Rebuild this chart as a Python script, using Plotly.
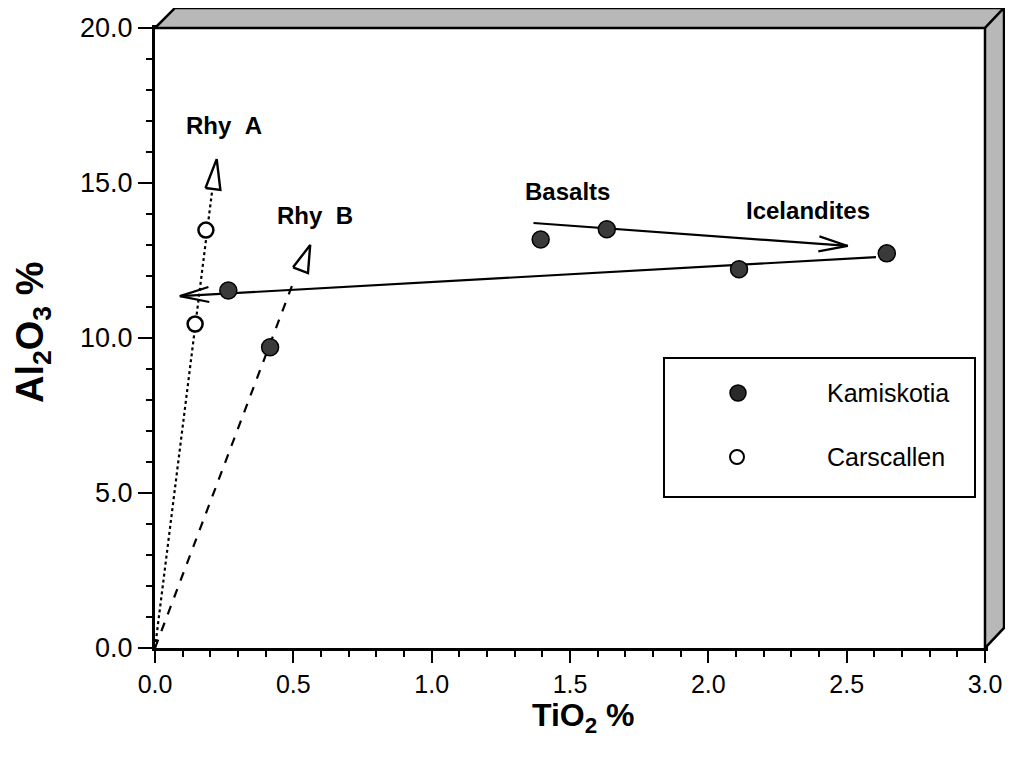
import plotly.graph_objects as go
import numpy as np

# ---------------- data ----------------
kam_tio2 = [0.265, 0.416, 1.394, 1.633, 2.111, 2.645]
kam_al2o3 = [11.53, 9.70, 13.18, 13.51, 12.22, 12.73]
car_tio2 = [0.184, 0.145]
car_al2o3 = [13.48, 10.45]

# trend lines (start, end) and arrow tips
rhyA_x = [0.0, 0.206]
rhyA_y = [0.0, 14.71]
rhyA_tip = [0.223, 15.77]
rhyB_x = [0.0, 0.503]
rhyB_y = [0.0, 11.87]
rhyB_tip = [0.561, 13.00]
bas_x = [1.368, 2.504]
bas_y = [13.71, 12.97]
ice_x = [2.606, 0.090]
ice_y = [12.61, 11.35]

x_ticks = [0.0, 0.5, 1.0, 1.5, 2.0, 2.5, 3.0]
x_tick_labels = ["0.0", "0.5", "1.0", "1.5", "2.0", "2.5", "3.0"]
y_ticks = [0, 5, 10, 15, 20]
y_tick_labels = ["0.0", "5.0", "10.0", "15.0", "20.0"]

labels = ["Rhy  A", "Rhy  B", "Basalts", "Icelandites"]
label_x = [0.249, 0.578, 1.492, 2.36]
label_y = [16.85, 13.95, 14.71, 14.1]

legend_names = ["Kamiskotia", "Carscallen"]

# ---------------- geometry ----------------
OFF = 8  # page body margin in the browser
W, H = 1013 - 2 * OFF, 759 - 2 * OFF - 8
ML, MT = 155 - OFF, 28 - OFF
PW, PH = 830, 620
MR = W - ML - PW
MB = H - MT - PH
XR = (0, 3)
YR = (0, 20)
PX = PW / (XR[1] - XR[0])
PY = PH / (YR[1] - YR[0])

FONT = "Liberation Sans, Arial, Helvetica, sans-serif"

fig = go.Figure()


def line_trace(xs, ys, dash="solid", width=2.2):
    fig.add_trace(go.Scatter(x=xs, y=ys, mode="lines",
                             line=dict(color="black", width=width, dash=dash),
                             hoverinfo="skip", showlegend=False))


def head(tip, frm, L, Wd, closed):
    dx = (tip[0] - frm[0]) * PX
    dy = (tip[1] - frm[1]) * PY
    n = np.hypot(dx, dy)
    ux, uy = dx / n, dy / n
    nx, ny = -uy, ux
    bx = tip[0] * PX - L * ux
    by = tip[1] * PY - L * uy
    p1 = ((bx + Wd * nx) / PX, (by + Wd * ny) / PY)
    p2 = ((bx - Wd * nx) / PX, (by - Wd * ny) / PY)
    if closed:
        xs = [p1[0], tip[0], p2[0], p1[0]]
        ys = [p1[1], tip[1], p2[1], p1[1]]
    else:
        xs = [p1[0], tip[0], p2[0]]
        ys = [p1[1], tip[1], p2[1]]
    return xs, ys


# Rhy A (dotted)
line_trace(rhyA_x, rhyA_y, dash="dot", width=2.2)
hx, hy = head(rhyA_tip, (rhyA_x[0], rhyA_y[0]), 30, 7.5, True)
line_trace(hx, hy, width=2.4)
# Rhy B (dashed)
line_trace(rhyB_x, rhyB_y, dash="dash", width=2.2)
hx, hy = head(rhyB_tip, (rhyB_x[0], rhyB_y[0]), 27, 8, True)
line_trace(hx, hy, width=2.4)
# Basalt trend
line_trace(bas_x, bas_y, width=2.2)
hx, hy = head((bas_x[1], bas_y[1]), (bas_x[0], bas_y[0]), 29, 7.5, False)
line_trace(hx, hy, width=2.2)
# Icelandite trend
line_trace(ice_x, ice_y, width=2.2)
hx, hy = head((ice_x[1], ice_y[1]), (ice_x[0], ice_y[0]), 29, 7.5, False)
line_trace(hx, hy, width=2.2)

# points
fig.add_trace(go.Scatter(x=kam_tio2, y=kam_al2o3, mode="markers", name=legend_names[0],
                         marker=dict(size=17, color="#3a3a3a", line=dict(color="black", width=1.5)),
                         showlegend=False))
fig.add_trace(go.Scatter(x=car_tio2, y=car_al2o3, mode="markers", name=legend_names[1],
                         marker=dict(size=15, color="white", line=dict(color="black", width=2.5)),
                         showlegend=False))

# in-plot labels
for t, x, y in zip(labels, label_x, label_y):
    fig.add_annotation(x=x, y=y, text=t.replace(" ", "&nbsp;"), showarrow=False,
                       font=dict(family=FONT, size=24, color="black", weight="bold"),
                       xanchor="center", yanchor="middle")


def px2paper(px, py):
    # px, py are screenshot pixels
    return (px - OFF - ML) / PW, (MT + PH - (py - OFF)) / PH


shapes = []
# 3D bands
top_pts = [(155, 28), (175, 8), (1004, 8), (985, 28)]
right_pts = [(985, 28), (1004, 8), (1004, 628), (985, 648)]
for pts in (top_pts, right_pts):
    pp = [px2paper(*p) for p in pts]
    path = "M " + " L ".join(f"{a:.4f},{b:.4f}" for a, b in pp) + " Z"
    shapes.append(dict(type="path", xref="paper", yref="paper", path=path,
                       fillcolor="#b8b8b8", line=dict(color="black", width=2.5), layer="above"))

# legend box
bx0, by0 = px2paper(664, 358)
bx1, by1 = px2paper(975, 497)
shapes.append(dict(type="rect", xref="paper", yref="paper", x0=bx0, x1=bx1, y0=by1, y1=by0,
                   fillcolor="white", line=dict(color="black", width=2), layer="above"))
mk1 = px2paper(738, 393)
mk2 = px2paper(737, 457)
shapes.append(dict(type="circle", xref="paper", yref="paper", xsizemode="pixel", ysizemode="pixel",
                   xanchor=mk1[0], yanchor=mk1[1], x0=-8, x1=8, y0=-8, y1=8,
                   fillcolor="#2a2a2a", line=dict(color="black", width=1.5), layer="above"))
shapes.append(dict(type="circle", xref="paper", yref="paper", xsizemode="pixel", ysizemode="pixel",
                   xanchor=mk2[0], yanchor=mk2[1], x0=-7, x1=7, y0=-7, y1=7,
                   fillcolor="white", line=dict(color="black", width=2), layer="above"))
tx = px2paper(825, 0)[0]
fig.add_annotation(xref="paper", yref="paper", x=tx, y=mk1[1], text=legend_names[0], showarrow=False,
                   xanchor="left", yanchor="middle", font=dict(family=FONT, size=25, color="black"))
fig.add_annotation(xref="paper", yref="paper", x=tx, y=mk2[1], text=legend_names[1], showarrow=False,
                   xanchor="left", yanchor="middle", font=dict(family=FONT, size=25, color="black"))

# axis titles
xt = px2paper(583, 718)
fig.add_annotation(xref="paper", yref="paper", x=xt[0], y=xt[1], text="TiO<sub>2</sub> %",
                   showarrow=False, xanchor="center", yanchor="middle",
                   font=dict(family=FONT, size=32, color="black", weight="bold"))
yt = px2paper(33, 332)
fig.add_annotation(xref="paper", yref="paper", x=yt[0], y=yt[1], text="Al<sub>2</sub>O<sub>3</sub> %",
                   showarrow=False, xanchor="center", yanchor="middle", textangle=-90,
                   font=dict(family=FONT, size=38, color="black", weight="bold"))

fig.update_layout(
    width=W, height=H,
    margin=dict(l=ML, r=MR, t=MT, b=MB, pad=0, autoexpand=False),
    paper_bgcolor="white", plot_bgcolor="white",
    shapes=shapes, showlegend=False,
    xaxis=dict(range=list(XR), tickvals=x_ticks, ticktext=x_tick_labels, automargin=False,
               ticks="outside", ticklen=12, tickwidth=2, tickcolor="black",
               showline=True, linewidth=3, linecolor="black", mirror=True,
               showgrid=False, zeroline=False,
               tickfont=dict(family=FONT, size=25, color="black"),
               minor=dict(dtick=0.1, ticks="outside", ticklen=6, tickwidth=1.5, tickcolor="black")),
    yaxis=dict(range=list(YR), tickvals=y_ticks, ticktext=y_tick_labels, automargin=False,
               ticks="outside", ticklen=14, tickwidth=2, tickcolor="black",
               showline=True, linewidth=3, linecolor="black", mirror=True,
               showgrid=False, zeroline=False,
               tickfont=dict(family=FONT, size=27, color="black"),
               minor=dict(dtick=1, ticks="outside", ticklen=6, tickwidth=1.5, tickcolor="black")),
)

fig.write_html("out.html")
